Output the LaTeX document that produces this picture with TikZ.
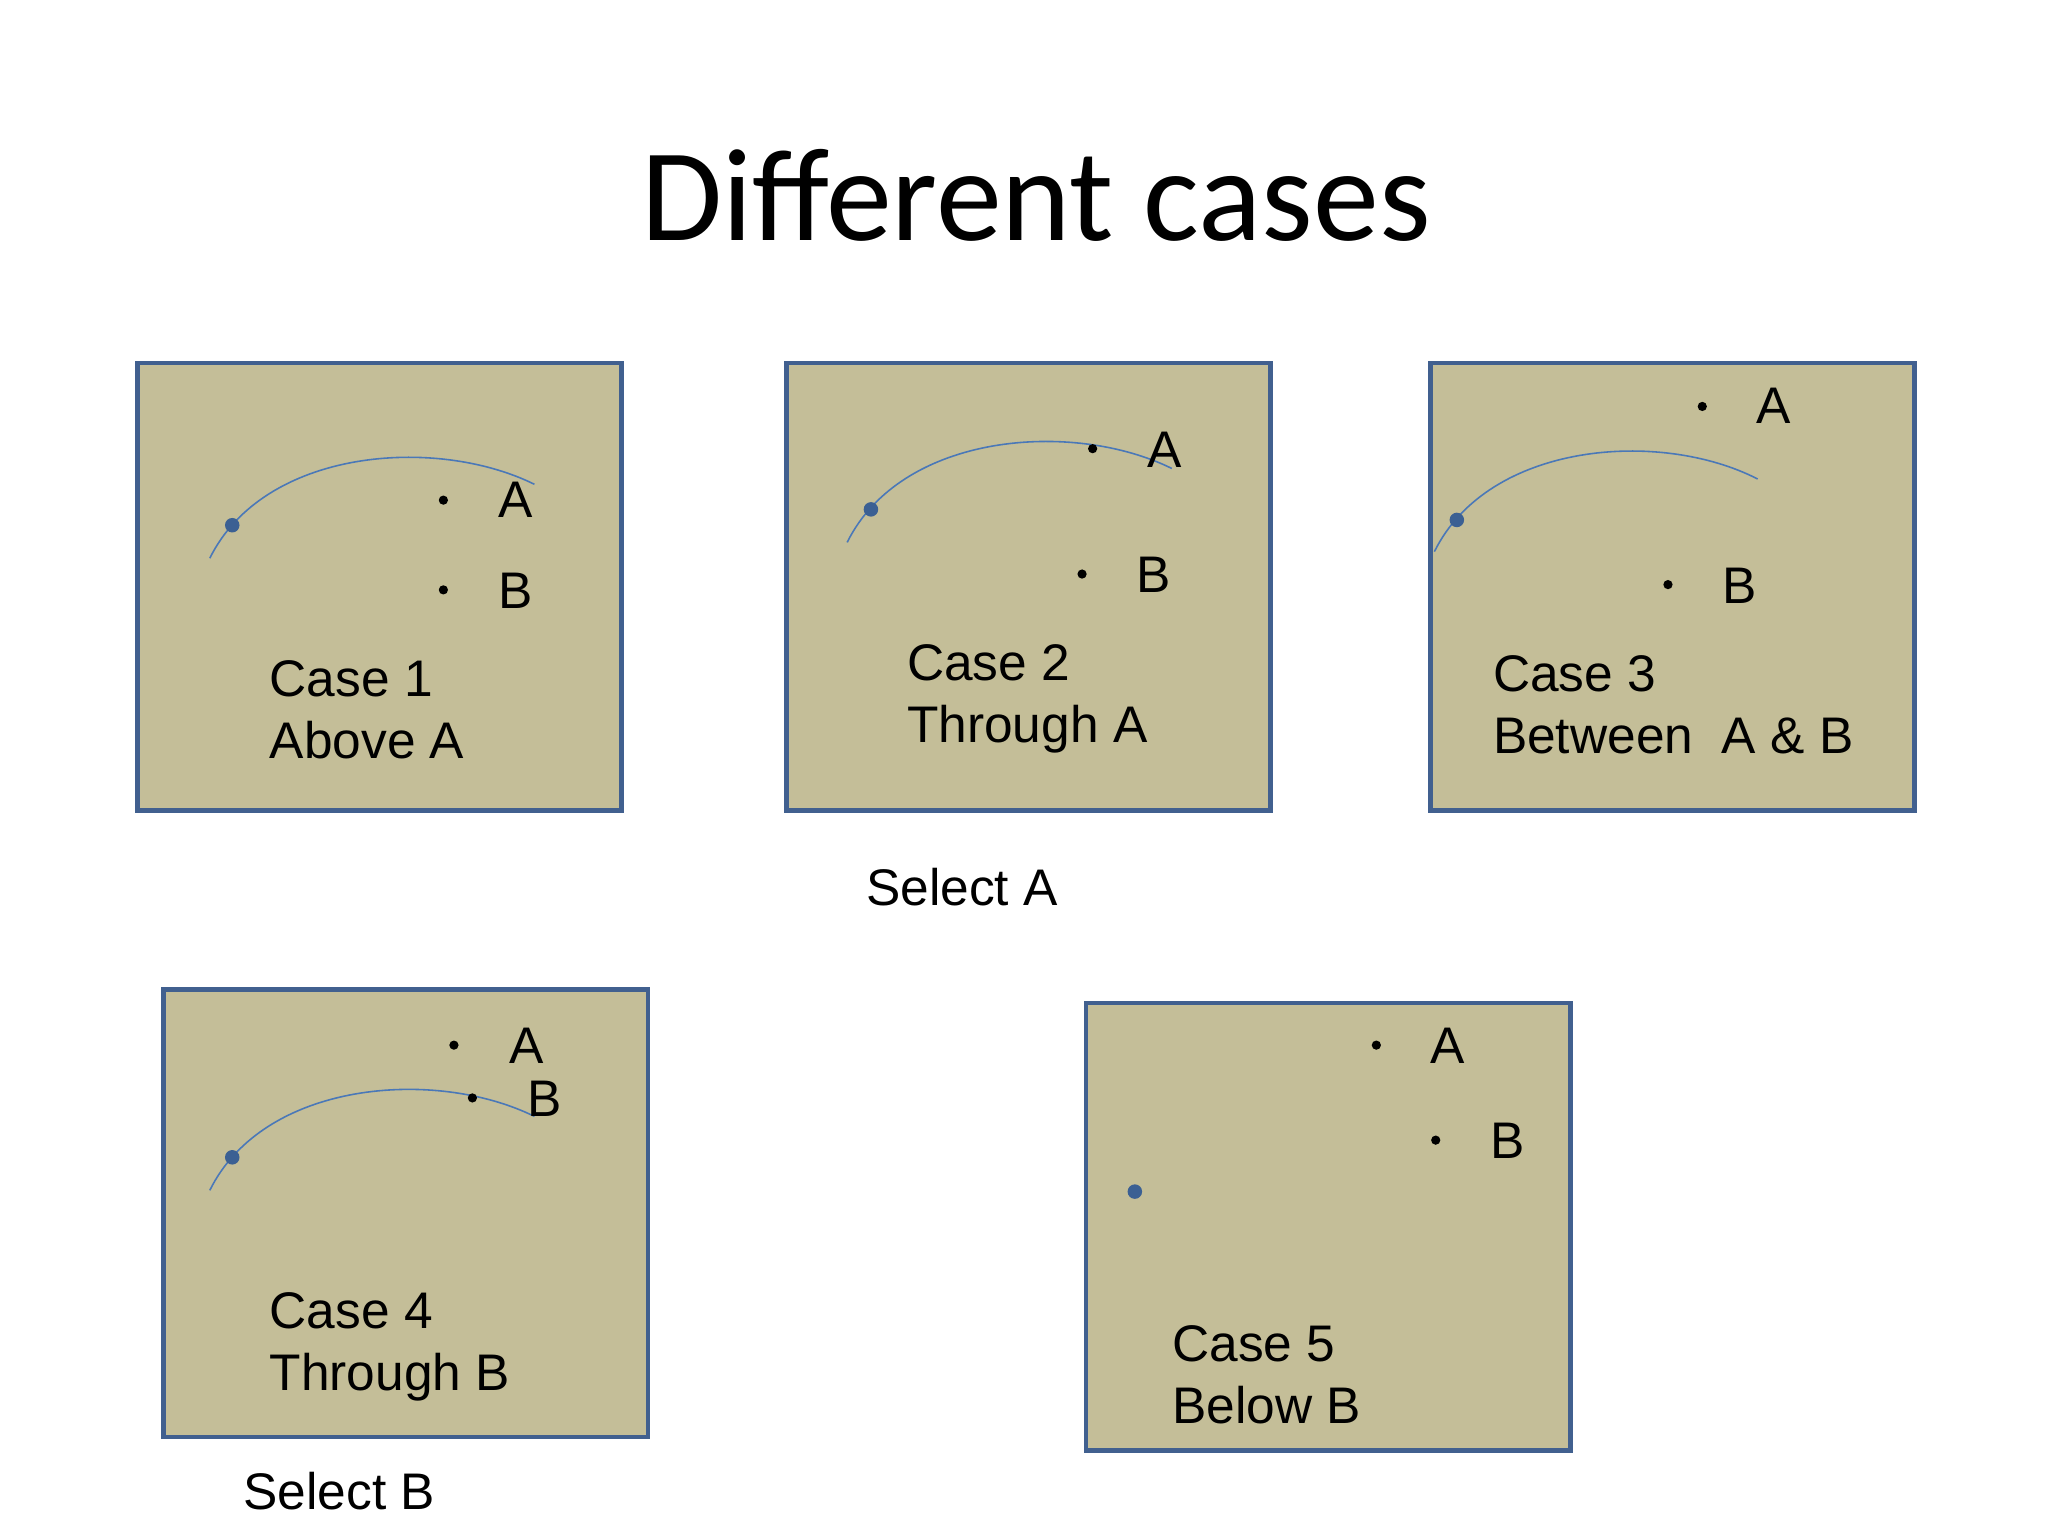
\documentclass[tikz,border=0pt]{standalone}
\usepackage{fontspec}
\setmainfont{Liberation Sans}
\newfontfamily\titlefont{Carlito}
\begin{document}
\begin{tikzpicture}[x=0.5pt,y=-0.5pt]
\definecolor{boxfill}{HTML}{C4BE98}
\definecolor{boxline}{HTML}{41608F}
\definecolor{curvec}{HTML}{4A78B8}
\tikzset{
 panel/.style={draw=boxline,fill=boxfill,line width=1.8pt},
 lbl/.style={font=\fontsize{19.5}{23}\selectfont,anchor=base west,inner sep=0pt},
 pt/.style={circle,fill=black,inner sep=0pt,minimum size=3.5pt},
 bdot/.style={circle,fill=curvec!80!black,inner sep=0pt,minimum size=5.5pt},
 arcline/.style={draw=curvec,line width=0.6pt}
}
\useasboundingbox (0,0) rectangle (1552,1164);
\node[font=\titlefont\fontsize{50}{56}\selectfont] (title) at (785,148) {Different cases};
% boxes
\draw[panel] (104,275) rectangle (471,614);
\draw[panel] (596,275) rectangle (963,614);
\draw[panel] (1084,275) rectangle (1451,614);
\draw[panel] (124,750) rectangle (491,1089);
\draw[panel] (823,760) rectangle (1190,1099);
% case 1
\draw[arcline] (159,423) .. controls (200,340) and (330,330) .. (405,367);
\node[bdot] (s1) at (176,398) {};
\node[pt] (a1) at (336,379) {}; \node[lbl] (la1) at (377,392) {A};
\node[pt] (b1) at (336,447) {}; \node[lbl] (lb1) at (377,461) {B};
\node[lbl] (c1) at (204,528) {Case 1};
\node[lbl] (d1) at (204,575) {Above A};
% case 2
\draw[arcline] (642,411) .. controls (683,328) and (813,318) .. (888,355);
\node[bdot] (s2) at (660,386) {};
\node[pt] (a2) at (828,340) {}; \node[lbl] (la2) at (869,354) {A};
\node[pt] (b2) at (820,435) {}; \node[lbl] (lb2) at (861,449) {B};
\node[lbl] (c2) at (687,516) {Case 2};
\node[lbl] (d2) at (687,563) {Through A};
% case 3
\draw[arcline] (1087,418) .. controls (1128,335) and (1258,325) .. (1332,363);
\node[bdot] (s3) at (1104,394) {};
\node[pt] (a3) at (1290,308) {}; \node[lbl] (la3) at (1331,321) {A};
\node[pt] (b3) at (1264,443) {}; \node[lbl] (lb3) at (1305,457) {B};
\node[lbl] (c3) at (1131,524) {Case 3};
\node[lbl] (d3) at (1131,571) {Between\ \ A \& B};
% case 4
\draw[arcline] (159,902) .. controls (200,819) and (330,809) .. (405,846);
\node[bdot] (s4) at (176,877) {};
\node[pt] (a4) at (344,792) {}; \node[lbl] (la4) at (386,806) {A};
\node[pt] (b4) at (358,832) {}; \node[lbl] (lb4) at (399,846) {B};
\node[lbl] (c4) at (204,1007) {Case 4};
\node[lbl] (d4) at (204,1054) {Through B};
% case 5
\node[bdot] (s5) at (860,903) {};
\node[pt] (a5) at (1043,792) {}; \node[lbl] (la5) at (1084,806) {A};
\node[pt] (b5) at (1088,864) {}; \node[lbl] (lb5) at (1129,878) {B};
\node[lbl] (c5) at (888,1032) {Case 5};
\node[lbl] (d5) at (888,1079) {Below B};
% captions
\node[lbl] (selA) at (656,686) {Select A};
\node[lbl] (selB) at (184,1144) {Select B};
\end{tikzpicture}
\end{document}
